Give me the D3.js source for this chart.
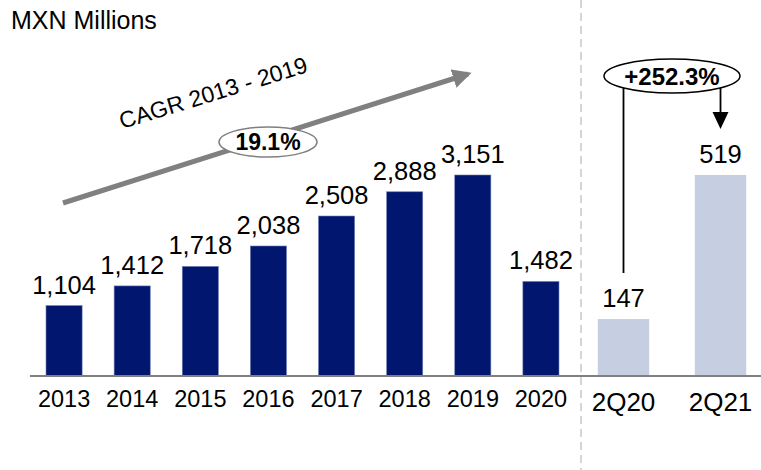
<!DOCTYPE html>
<html>
<head>
<meta charset="utf-8">
<script src="https://cdn.jsdelivr.net/npm/d3@7"></script>
<style>
  body { margin: 0; background: #fff; }
  text { font-family: "Liberation Sans", Arial, sans-serif; }
</style>
</head>
<body>
<div id="chart"></div>
<script>
//data
let years = ["2013", "2014", "2015", "2016", "2017", "2018", "2019", "2020"];
let yearValues = [1104, 1412, 1718, 2038, 2508, 2888, 3151, 1482];
let quarters = ["2Q20", "2Q21"];
let quarterValues = [147, 519];
let cagrLabel = "CAGR 2013 - 2019";
let cagrValue = "19.1%";
let growthValue = "+252.3%";

let width = 761, height = 470;
let baseY = 376;
let navy = "#00166f";
let light = "#c5cfe1";

let svg = d3.select("#chart")
        .append("svg")
        .attr("width", width)
        .attr("height", height);

let fmt = d3.format(",");

//scales
let xYear = d3.scaleBand().domain(years).range([30, 575]).paddingInner(0.47).paddingOuter(0.235);
let yYear = d3.scaleLinear().domain([0, 3151]).range([baseY, 175]);
let xQ = d3.scaleBand().domain(quarters).range([575, 769]).paddingInner(0.47).paddingOuter(0.235);
let yQ = d3.scaleLinear().domain([0, 519]).range([baseY, 175]);

//title
svg.append("text")
  .attr("x", 11).attr("y", 29)
  .style("font-size", "25px")
  .text("MXN Millions");

//dashed separator
svg.append("line")
  .attr("x1", 581).attr("x2", 581)
  .attr("y1", 0).attr("y2", height)
  .attr("stroke", "#c8c8c8")
  .attr("stroke-width", 1.5)
  .attr("stroke-dasharray", "8,5");

//annual bars
svg.selectAll(".ybar").data(years).enter().append("rect")
  .attr("x", d => xYear(d))
  .attr("y", (d, i) => yYear(yearValues[i]))
  .attr("width", xYear.bandwidth())
  .attr("height", (d, i) => baseY - yYear(yearValues[i]))
  .attr("fill", navy)
  .attr("stroke", "#6f7db5")
  .attr("stroke-width", 0.6);

svg.selectAll(".yval").data(years).enter().append("text")
  .attr("x", d => xYear(d) + xYear.bandwidth() / 2)
  .attr("y", (d, i) => yYear(yearValues[i]) - 12)
  .attr("text-anchor", "middle")
  .style("font-size", "25.5px")
  .text((d, i) => fmt(yearValues[i]));

//quarter bars
svg.selectAll(".qbar").data(quarters).enter().append("rect")
  .attr("x", d => xQ(d))
  .attr("y", (d, i) => yQ(quarterValues[i]))
  .attr("width", xQ.bandwidth())
  .attr("height", (d, i) => baseY - yQ(quarterValues[i]))
  .attr("fill", light);

svg.selectAll(".qval").data(quarters).enter().append("text")
  .attr("x", d => xQ(d) + xQ.bandwidth() / 2)
  .attr("y", (d, i) => yQ(quarterValues[i]) - 12)
  .attr("text-anchor", "middle")
  .style("font-size", "25.5px")
  .text((d, i) => fmt(quarterValues[i]));

//baseline
svg.append("line")
  .attr("x1", 30).attr("x2", width)
  .attr("y1", baseY).attr("y2", baseY)
  .attr("stroke", "#808080")
  .attr("stroke-width", 2);

//axis labels
let yearAxis = svg.append("g")
  .attr("transform", "translate(0," + baseY + ")")
  .call(d3.axisBottom(xYear).tickSize(0).tickPadding(14));
yearAxis.select(".domain").remove();
yearAxis.selectAll("text")
  .style("font-family", "\"Liberation Sans\", Arial, sans-serif")
  .style("font-size", "23.5px")
  .attr("fill", "#000");

let qAxis = svg.append("g")
  .attr("transform", "translate(0," + baseY + ")")
  .call(d3.axisBottom(xQ).tickSize(0).tickPadding(17));
qAxis.select(".domain").remove();
qAxis.selectAll("text")
  .style("font-family", "\"Liberation Sans\", Arial, sans-serif")
  .style("font-size", "26px")
  .attr("fill", "#000");

//markers
let defs = svg.append("defs");
defs.append("marker")
  .attr("id", "grayHead")
  .attr("viewBox", "0 0 10 10")
  .attr("refX", 8).attr("refY", 5)
  .attr("markerWidth", 3.8).attr("markerHeight", 3.8)
  .attr("orient", "auto")
  .append("path").attr("d", "M0,0 L10,5 L0,10 z").attr("fill", "#808080");

//CAGR arrow
svg.append("line")
  .attr("x1", 63).attr("y1", 203)
  .attr("x2", 468).attr("y2", 74)
  .attr("stroke", "#808080")
  .attr("stroke-width", 5)
  .attr("marker-end", "url(#grayHead)");

svg.append("text")
  .attr("transform", "translate(122,129) rotate(-17)")
  .style("font-size", "23px")
  .text(cagrLabel);

svg.append("ellipse")
  .attr("cx", 268).attr("cy", 142)
  .attr("rx", 49).attr("ry", 15)
  .attr("fill", "#fff")
  .attr("stroke", "#808080")
  .attr("stroke-width", 1.5);

svg.append("text")
  .attr("x", 268).attr("y", 150)
  .attr("text-anchor", "middle")
  .style("font-size", "23px")
  .style("font-weight", "bold")
  .text(cagrValue);

//growth annotation
let x1 = xQ("2Q20") + xQ.bandwidth() / 2;
let x2 = xQ("2Q21") + xQ.bandwidth() / 2;

svg.append("line")
  .attr("x1", x1).attr("x2", x1)
  .attr("y1", 80).attr("y2", 273)
  .attr("stroke", "#000").attr("stroke-width", 1.8);

svg.append("line")
  .attr("x1", x2).attr("x2", x2)
  .attr("y1", 80).attr("y2", 114)
  .attr("stroke", "#000").attr("stroke-width", 1.8);

svg.append("path")
  .attr("d", "M" + (x2 - 8) + ",112 L" + (x2 + 8) + ",112 L" + x2 + ",129 z")
  .attr("fill", "#000");

svg.append("ellipse")
  .attr("cx", 672).attr("cy", 76)
  .attr("rx", 68).attr("ry", 17)
  .attr("fill", "#fff")
  .attr("stroke", "#000")
  .attr("stroke-width", 1.5);

svg.append("text")
  .attr("x", 672).attr("y", 85)
  .attr("text-anchor", "middle")
  .style("font-size", "24px")
  .style("font-weight", "bold")
  .text(growthValue);
</script>
</body>
</html>
